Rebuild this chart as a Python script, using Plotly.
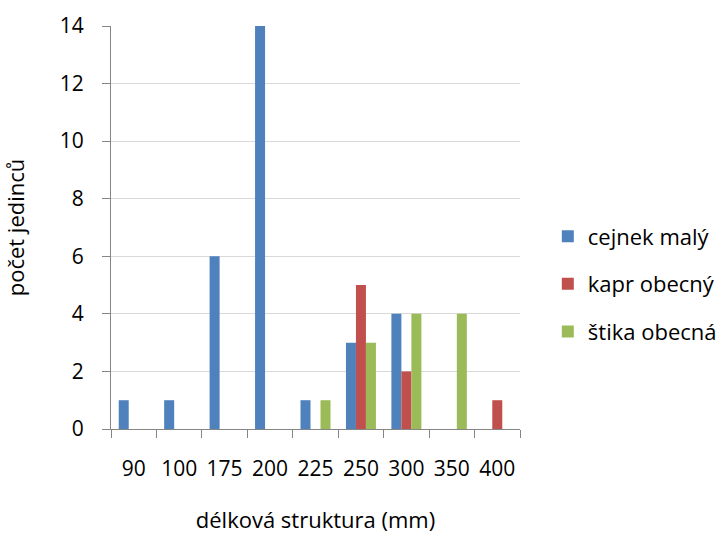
import plotly.graph_objects as go

categories = ["90", "100", "175", "200", "225", "250", "300", "350", "400"]
cejnek_maly = [1, 1, 6, 14, 1, 3, 4, 0, 0]
kapr_obecny = [0, 0, 0, 0, 0, 5, 2, 0, 1]
stika_obecna = [0, 0, 0, 0, 1, 3, 4, 4, 0]

series = [
    ("cejnek malý", cejnek_maly, "#4F81BD"),
    ("kapr obecný", kapr_obecny, "#C0504D"),
    ("štika obecná", stika_obecna, "#9BBB59"),
]

font_family = "Open Sans, sans-serif"
fs = 22

fig = go.Figure()
for i, (name, vals, color) in enumerate(series):
    fig.add_trace(go.Bar(
        x=categories, y=vals, name=name,
        marker=dict(color=color, line=dict(width=0)),
        legendgroup=f"g{i}",
    ))

fig.update_layout(
    width=721, height=534,
    margin=dict(l=111, r=201, t=26, b=105, autoexpand=False),
    paper_bgcolor="white", plot_bgcolor="white",
    barmode="group", bargap=0.34, bargroupgap=0,
    font=dict(family=font_family, size=fs, color="#000000"),
    showlegend=True,
    legend=dict(
        x=1.068, y=0.36, xanchor="left", yanchor="middle",
        font=dict(size=fs), tracegroupgap=16,
        itemwidth=30,
    ),
    xaxis=dict(
        type="category", automargin=False,
        showline=True, linecolor="#868686", linewidth=1.3,
        ticks="outside", tickson="boundaries", ticklen=8,
        tickcolor="#868686", tickwidth=1.3,
        tickangle=0, tickfont=dict(size=21),
        ticklabelstandoff=21,
        showgrid=False,
        title=dict(text="délková struktura (mm)", standoff=33,
                   font=dict(size=fs)),
    ),
    yaxis=dict(
        range=[0, 14], dtick=2, automargin=False,
        showline=True, linecolor="#868686", linewidth=1.3,
        ticks="outside", ticklen=8, tickcolor="#868686", tickwidth=1.3,
        tickfont=dict(size=21),
        ticklabelstandoff=14,
        showgrid=True, gridcolor="#D9D9D9", gridwidth=1.3,
        zeroline=False,
        title=dict(text="počet jedinců", standoff=30, font=dict(size=fs)),
    ),
)

fig.write_html("out.html")
